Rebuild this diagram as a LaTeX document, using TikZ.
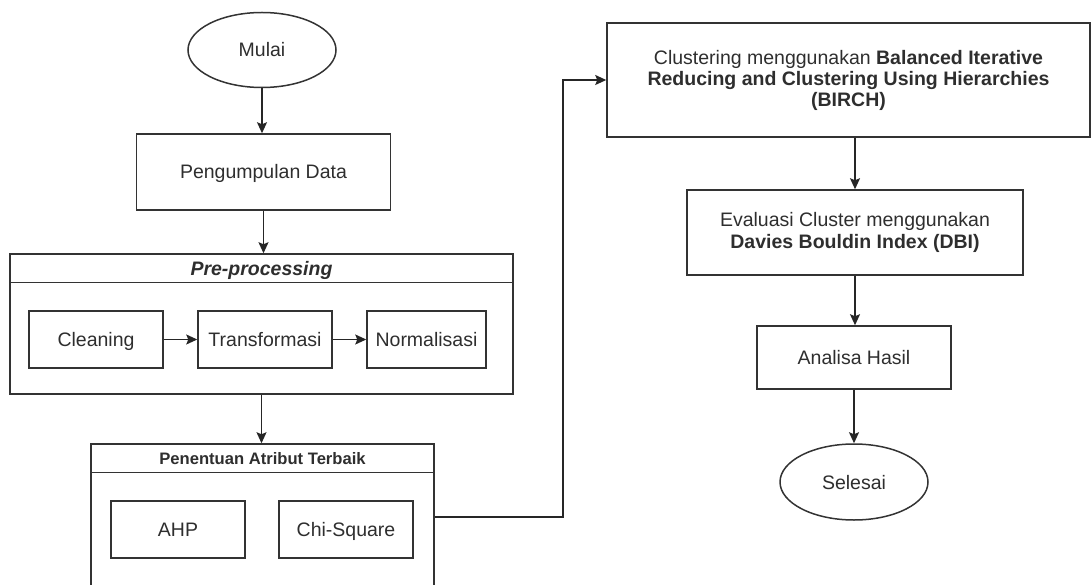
\documentclass[tikz,border=0pt]{standalone}
\usepackage{fontspec}
\setmainfont{Liberation Sans}
\usetikzlibrary{arrows.meta,shapes.geometric}

\begin{document}
\begin{tikzpicture}[x=1pt,y=-1pt,
  every node/.style={text=black!82,font=\fontsize{19.5}{21.5}\selectfont},
  box/.style={draw=black!80,line width=1.5pt,rectangle,align=center,inner sep=0pt},
  satu/.style={text height=14pt,text depth=0pt},
  term/.style={draw=black!80,line width=1.5pt,ellipse,minimum width=148pt,minimum height=75pt,inner sep=0pt,satu},
  judul/.style={font=\fontsize{16.6}{19}\selectfont\bfseries},
  flow/.style={draw=black!85,line width=1.5pt,-{Stealth[length=11pt,width=10pt,inset=2pt]}}]
\useasboundingbox (0,0) rectangle (1091,585);

% kolom kiri
\node[term] (mulai) at (262,50) {Mulai};
\node[box,satu,minimum width=254pt,minimum height=76pt] (kumpul) at (263.5,172) {Pengumpulan Data};

\node[box,minimum width=503pt,minimum height=140pt] (pre) at (261.5,324) {};
\node[satu] (prejudul) at (261.5,268.5) {\textbf{\textit{Pre-processing}}};
\draw[draw=black!80,line width=1.5pt] ([yshift=-29pt]pre.north west) -- ([yshift=-29pt]pre.north east);
\node[box,satu,minimum width=134pt,minimum height=57pt] (clean) at (96,339.5) {Cleaning};
\node[box,satu,minimum width=134pt,minimum height=57pt] (trans) at (265,339.5) {Transformasi};
\node[box,satu,minimum width=119pt,minimum height=57pt] (norm) at (426.5,339.5) {Normalisasi};

\node[box,minimum width=343pt,minimum height=156pt] (atribut) at (262.5,522) {};
\node[judul,text height=12pt,text depth=0pt] (atrjudul) at (262.5,458.5) {Penentuan Atribut Terbaik};
\draw[draw=black!80,line width=1.5pt] ([yshift=-29pt]atribut.north west) -- ([yshift=-29pt]atribut.north east);
\node[box,satu,minimum width=134pt,minimum height=57pt] (ahp) at (178,529.5) {AHP};
\node[box,satu,minimum width=134pt,minimum height=57pt] (chi) at (346,529.5) {Chi-Square};

% kolom kanan
\node[box,minimum width=483pt,minimum height=114pt,font=\fontsize{19.5}{21}\selectfont] (birch) at (848.5,80)
  {Clustering menggunakan \textbf{Balanced Iterative}\\ \textbf{Reducing and Clustering Using Hierarchies}\\ \textbf{(BIRCH)}};
\node[box,minimum width=336pt,minimum height=85pt] (eval) at (855,232.5)
  {Evaluasi Cluster menggunakan\\ \textbf{Davies Bouldin Index (DBI)}};
\node[box,satu,minimum width=194pt,minimum height=63pt] (hasil) at (854,357.5) {Analisa Hasil};
\node[term,minimum height=76pt] (selesai) at (854,482) {Selesai};

% panah
\draw[flow] (mulai.south) -- (mulai.south |- kumpul.north);
\draw[flow] (kumpul.south) -- (kumpul.south |- pre.north);
\draw[flow] (clean) -- (trans);
\draw[flow] (trans) -- (norm);
\draw[flow] (pre.south) -- (pre.south |- atribut.north);
\draw[flow] ([yshift=5pt]atribut.east) -- ++(128,0) |- (birch.west);
\draw[flow] (birch.south -| eval.north) -- (eval.north);
\draw[flow] (eval.south) -- (hasil.north -| eval.south);
\draw[flow] (hasil.south) -- (selesai.north);

\end{tikzpicture}
\end{document}
